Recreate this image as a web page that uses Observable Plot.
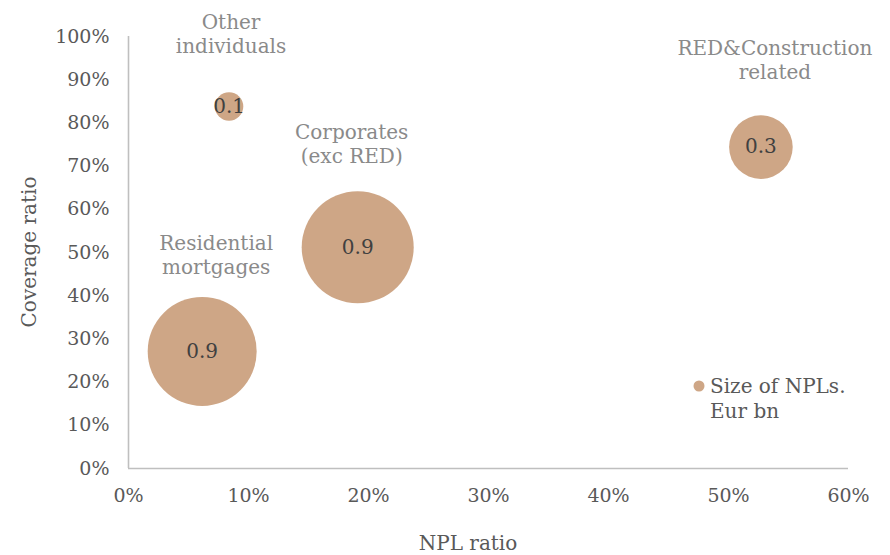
<!DOCTYPE html>
<html>
<head>
<meta charset="utf-8">
<script src="https://cdn.jsdelivr.net/npm/d3@7"></script>
<script src="https://cdn.jsdelivr.net/npm/@observablehq/plot@0.6"></script>
<style>
  html, body { margin: 0; padding: 0; background: #fff; }
  #chart { width: 890px; height: 555px; }
</style>
</head>
<body>
<div id="chart"></div>
<script>
// ---- data ----
const categories = ["Residential\nmortgages", "Corporates\n(exc RED)", "Other\nindividuals", "RED&Construction\nrelated"];
const nplRatio = [0.0614, 0.191, 0.0838, 0.527];
const coverageRatio = [0.271, 0.512, 0.838, 0.744];
const nplSize = [0.88, 0.93, 0.06, 0.30];
const xTicks = [0, 0.1, 0.2, 0.3, 0.4, 0.5, 0.6];
const yTicks = [0, 0.1, 0.2, 0.3, 0.4, 0.5, 0.6, 0.7, 0.8, 0.9, 1.0];
const legendLabel = ["Size of NPLs.", "Eur bn"];

// ---- layout / style ----
const FONT = "DejaVu Serif";
const BUBBLE = "#CEA686";
const labelNudge = [
  {dx: 14, dy: -97},
  {dx: -6, dy: -104},
  {dx: 2, dy: -73},
  {dx: 14, dy: -88}
];

const data = categories.map((c, i) => ({
  cat: c, x: nplRatio[i], y: coverageRatio[i], size: nplSize[i]
}));

const W = 890, H = 555;
const margin = {top: 36, right: 42, bottom: 87, left: 128};

const chart = Plot.plot({
  width: W,
  height: H,
  marginTop: margin.top,
  marginRight: margin.right,
  marginBottom: margin.bottom,
  marginLeft: margin.left,
  style: {fontFamily: FONT, fontSize: "19px", color: "#595959", background: "#fff"},
  x: {domain: [0, 0.6], label: null},
  y: {domain: [0, 1], label: null},
  r: {type: "sqrt", domain: [0, 0.93], range: [0, 56]},
  marks: [
    Plot.axisX({ticks: xTicks, tickFormat: d3.format(".0%"), tickSize: 0, tickPadding: 20, fontSize: 19, fill: "#595959", label: null}),
    Plot.axisY({ticks: yTicks, tickFormat: d3.format(".0%"), tickSize: 0, tickPadding: 19, fontSize: 19, fill: "#595959", label: null}),
    Plot.ruleY([0], {stroke: "#BFBFBF", strokeWidth: 1.6}),
    Plot.ruleX([0], {stroke: "#BFBFBF", strokeWidth: 1.6}),
    Plot.dot(data, {x: "x", y: "y", r: "size", fill: BUBBLE, stroke: "none"}),
    Plot.text(data, {x: "x", y: "y", text: d => d3.format(".1f")(d.size), fill: "#404040", fontSize: 20}),
    ...data.map((d, i) => Plot.text([d], {
      x: "x", y: "y", text: "cat",
      dx: labelNudge[i].dx, dy: labelNudge[i].dy,
      lineAnchor: "middle", lineHeight: 1.22,
      fill: "#8A8A8A", fontSize: 20
    }))
  ]
});

document.getElementById("chart").appendChild(chart);

// axis titles and legend
const svg = d3.select(chart);
svg.append("text")
  .attr("x", 468).attr("y", 550)
  .attr("text-anchor", "middle")
  .attr("font-family", FONT).attr("font-size", 20).attr("fill", "#595959")
  .text("NPL ratio");
svg.append("text")
  .attr("transform", `translate(36,${(margin.top + H - margin.bottom) / 2}) rotate(-90)`)
  .attr("text-anchor", "middle")
  .attr("font-family", FONT).attr("font-size", 20).attr("fill", "#595959")
  .text("Coverage ratio");
const lg = svg.append("g").attr("transform", "translate(699,386)");
lg.append("circle").attr("r", 5.5).attr("fill", BUBBLE);
legendLabel.forEach((t, i) => {
  lg.append("text")
    .attr("x", 11).attr("y", 7 + i * 25)
    .attr("text-anchor", "start")
    .attr("font-family", FONT).attr("font-size", 20).attr("fill", "#595959")
    .text(t);
});
</script>
</body>
</html>
